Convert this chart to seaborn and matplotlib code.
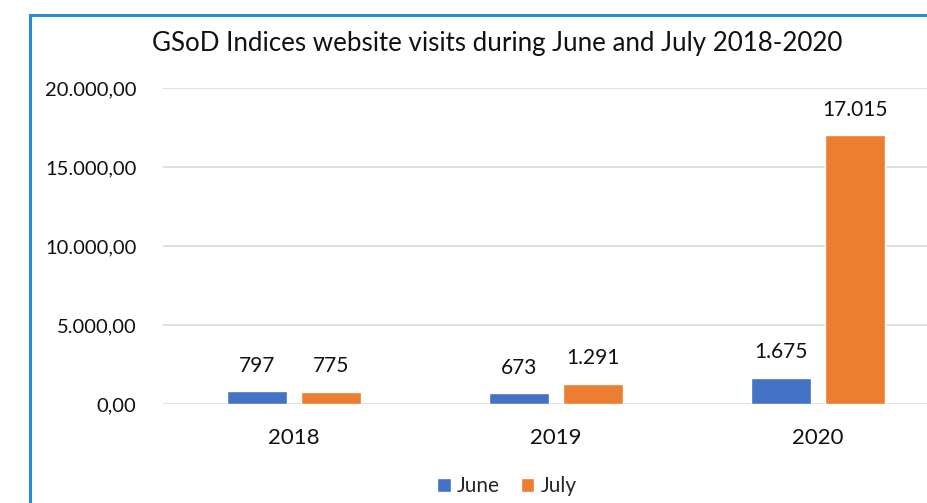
import pandas as pd
import numpy as np
import matplotlib.pyplot as plt
import seaborn as sns
from matplotlib.patches import Rectangle
from matplotlib.ticker import FuncFormatter

# data
years = ["2018", "2019", "2020"]
june = [797, 673, 1675]
july = [775, 1291, 17015]
series = ["June", "July"]
colors = ["#4472C4", "#ED7D31"]
y_ticks = [0, 5000, 10000, 15000, 20000]

df = pd.DataFrame({
    "year": years * 2,
    "visits": june + july,
    "month": ["June"] * 3 + ["July"] * 3,
})

sns.set_theme(style="white")
plt.rcParams["font.family"] = ["Lato", "DejaVu Sans"]

fig = plt.figure(figsize=(9.28, 5.03), dpi=100)
ax = fig.add_axes([163 / 928, 99 / 503, 786 / 928, 316 / 503])

sns.barplot(data=df, x="year", y="visits", hue="month", hue_order=series,
            palette=colors, width=0.565, gap=0.2, ax=ax, saturation=1)

def de_num(v):
    return f"{int(v):,}".replace(",", ".")

for cont in ax.containers:
    ax.bar_label(cont, labels=[de_num(b.get_height()) for b in cont],
                 padding=11, fontsize=15, color="#111111")

ax.set_ylim(0, 20000)
ax.set_yticks(y_ticks)
ax.yaxis.set_major_formatter(FuncFormatter(
    lambda v, p: f"{v:,.2f}".replace(",", "X").replace(".", ",").replace("X", ".")))
ax.grid(axis="y", color="#D9D9D9", linewidth=1.2)
ax.set_axisbelow(True)
for s in ax.spines.values():
    s.set_visible(False)
ax.tick_params(axis="y", labelsize=14.5, pad=19, length=0, labelcolor="#111111")
ax.tick_params(axis="x", labelsize=16, pad=17, length=0, labelcolor="#111111")
ax.set_xlabel("")
ax.set_ylabel("")

fig.text(497 / 928, 1 - 44 / 503,
         "GSoD Indices website visits during June and July 2018-2020",
         ha="center", va="center", fontsize=18.6, color="#111111")

handles, labels = ax.get_legend_handles_labels()
ax.legend(handles, labels, loc="center", bbox_to_anchor=(507 / 928, 17 / 503),
          bbox_transform=fig.transFigure, ncol=2, frameon=False, fontsize=15,
          handlelength=0.65, handleheight=0.65, handletextpad=0.3, columnspacing=1.0)

# blue chart border, cut off at right and bottom like the screenshot
fig.patches.append(Rectangle((30 / 928, -0.1), 1.0, 1 - 15 / 503 + 0.1,
                             transform=fig.transFigure, fill=False,
                             edgecolor="#2A8BD8", linewidth=2.2))

fig.savefig("out.png", dpi=100)
